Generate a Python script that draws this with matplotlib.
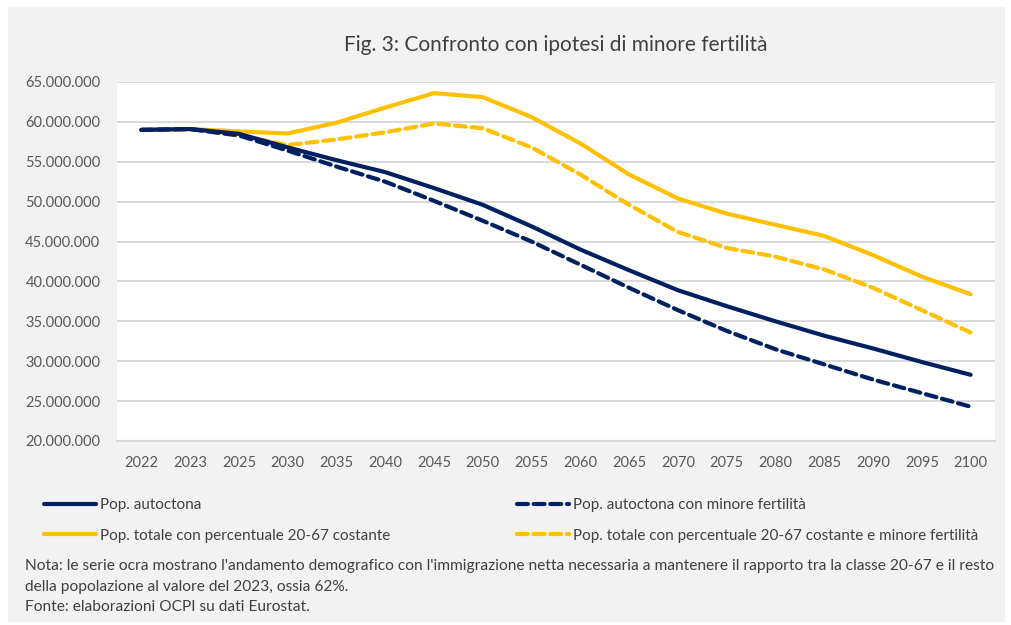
import matplotlib
matplotlib.use("Agg")
import matplotlib.pyplot as plt
from matplotlib.patches import Rectangle
from matplotlib.ticker import FuncFormatter

plt.rcParams['font.family'] = ['Lato', 'DejaVu Sans']

years = ["2022", "2023", "2025", "2030", "2035", "2040", "2045", "2050", "2055",
         "2060", "2065", "2070", "2075", "2080", "2085", "2090", "2095", "2100"]

pop_autoctona = [59.0, 59.1, 58.5, 56.8, 55.2, 53.7, 51.7, 49.6, 46.9, 44.0,
                 41.4, 38.9, 36.9, 35.0, 33.2, 31.6, 29.9, 28.3]
pop_autoctona_minore = [59.0, 59.1, 58.3, 56.4, 54.4, 52.5, 50.1, 47.6, 45.0, 42.1,
                        39.2, 36.4, 33.8, 31.5, 29.6, 27.7, 26.0, 24.3]
pop_totale = [59.0, 59.1, 58.8, 58.55, 59.9, 61.8, 63.6, 63.1, 60.6, 57.3,
              53.4, 50.4, 48.5, 47.1, 45.7, 43.3, 40.6, 38.4]
pop_totale_minore = [59.0, 59.1, 58.3, 57.1, 57.8, 58.7, 59.8, 59.2, 56.8, 53.4,
                     49.6, 46.2, 44.2, 43.1, 41.5, 39.2, 36.4, 33.6]

labels = ["Pop. autoctona", "Pop. autoctona con minore fertilità",
          "Pop. totale con percentuale 20-67 costante",
          "Pop. totale con percentuale 20-67 costante e minore fertilità"]

title = "Fig. 3: Confronto con ipotesi di minore fertilità"
note = ("Nota: le serie ocra mostrano l'andamento demografico con l'immigrazione netta necessaria a mantenere il rapporto tra la classe 20-67 e il resto\n"
        "della popolazione al valore del 2023, ossia 62%.\n"
        "Fonte: elaborazioni OCPI su dati Eurostat.")

NAVY = "#002060"
GOLD = "#FFC000"
TXT = "#595959"

W, H = 1011, 625
fig = plt.figure(figsize=(W / 100, H / 100), dpi=100, facecolor="white")

# gray panel
fig.patches.append(Rectangle((8 / W, 3 / H), (1005 - 8) / W, (618 - 3) / H,
                             transform=fig.transFigure, facecolor="#F2F2F2",
                             edgecolor="none", zorder=-10))

ax = fig.add_axes([117 / W, (H - 441) / H, (995 - 117) / W, (441 - 82) / H])
ax.set_facecolor("white")

x = list(range(len(years)))
scale = 1e6
lw = 3.0
dash = (2.6, 1.4)
l1, = ax.plot(x, [v * scale for v in pop_autoctona], color=NAVY, lw=lw,
              solid_capstyle="round", zorder=3)
l2, = ax.plot(x, [v * scale for v in pop_autoctona_minore], color=NAVY, lw=lw,
              dashes=dash, dash_capstyle="round", zorder=3)
l3, = ax.plot(x, [v * scale for v in pop_totale], color=GOLD, lw=lw,
              solid_capstyle="round", zorder=2)
l4, = ax.plot(x, [v * scale for v in pop_totale_minore], color=GOLD, lw=lw,
              dashes=dash, dash_capstyle="round", zorder=2)

ax.set_xlim(-0.5, len(years) - 0.5)
ax.set_ylim(20e6, 65e6)
ax.set_yticks([v * 1e6 for v in range(20, 66, 5)])
ax.yaxis.set_major_formatter(FuncFormatter(lambda v, p: f"{int(round(v)):,}".replace(",", ".")))
ax.set_xticks(x)
ax.set_xticklabels(years)
ax.grid(axis="y", color="#D9D9D9", lw=1.5, zorder=0)
ax.set_axisbelow(True)
for s in ["top", "right", "left"]:
    ax.spines[s].set_visible(False)
ax.spines["bottom"].set_color("#D9D9D9")
ax.spines["bottom"].set_linewidth(1.5)
ax.tick_params(axis="both", length=0, labelcolor=TXT, labelsize=10.5)
ax.tick_params(axis="y", pad=12)
ax.tick_params(axis="x", pad=11)

fig.text(556 / W, 1 - 45 / H, title, ha="center", va="center", fontsize=15, color="#404040")

leg_kw = dict(frameon=False, fontsize=11, handlelength=3.4, handletextpad=0.25,
              labelspacing=1.1, borderaxespad=0, borderpad=0, labelcolor="#404040")
leg1 = fig.legend([l1, l3], [labels[0], labels[2]], loc="upper left",
                  bbox_to_anchor=(44 / W, 1 - 498 / H), **leg_kw)
leg2 = fig.legend([l2, l4], [labels[1], labels[3]], loc="upper left",
                  bbox_to_anchor=(517 / W, 1 - 498 / H), **leg_kw)

fig.text(25 / W, 1 - 559 / H, note, ha="left", va="top", fontsize=11.2,
         color="#404040", linespacing=1.6)

fig.savefig("out.png", dpi=100, facecolor="white")
